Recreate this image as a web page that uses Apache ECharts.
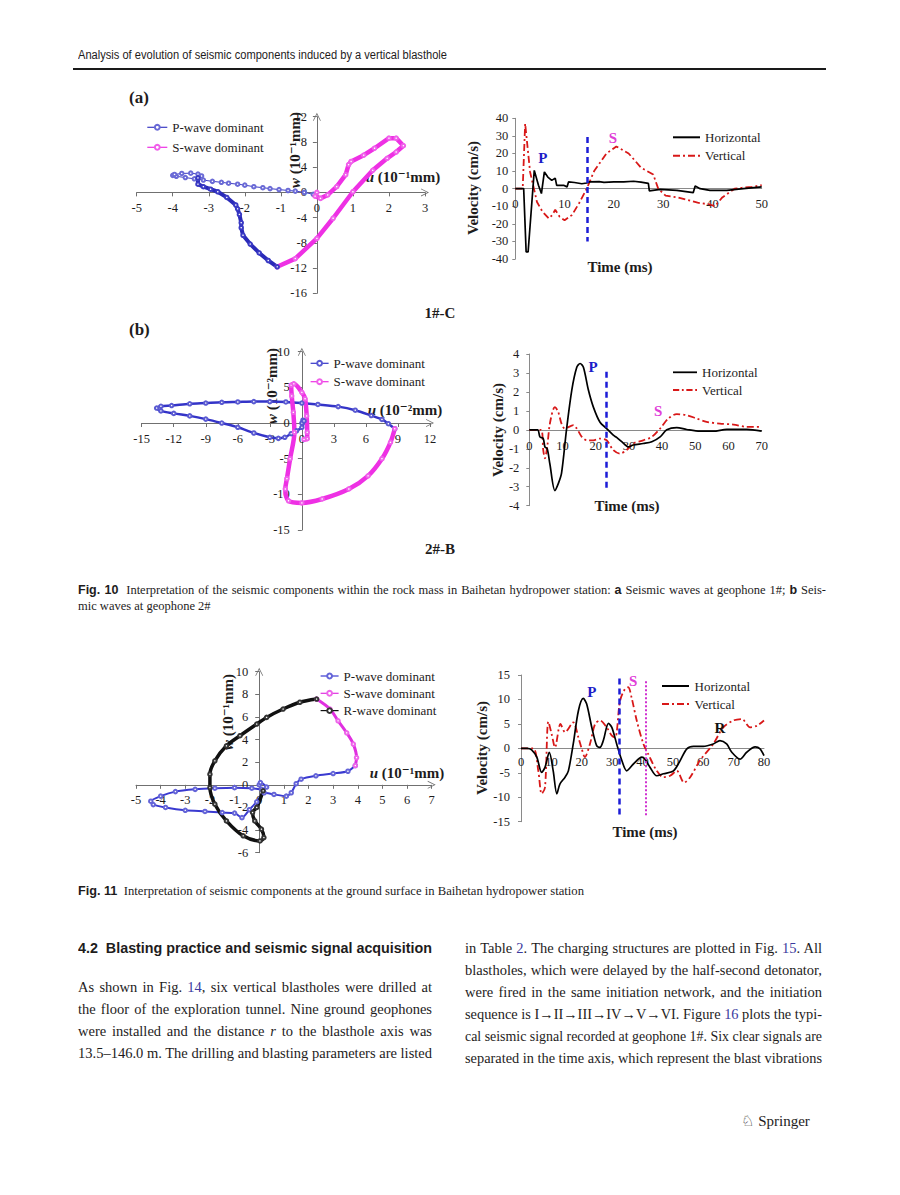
<!DOCTYPE html>
<html><head><meta charset="utf-8">
<script src="https://cdn.jsdelivr.net/npm/echarts/dist/echarts.min.js"></script>
<style>
html,body{margin:0;padding:0;background:#fff;}
#page{position:relative;width:900px;height:1195px;overflow:hidden;background:#fff;}
.chart{position:absolute;left:0;top:0;width:900px;height:1195px;}
.ln{position:absolute;white-space:nowrap;color:#1e1c1c;}
.ln span.inner{display:inline-block;transform-origin:0 50%;}
.lk{color:#3a3a9e;}
.sb{font-family:"Liberation Sans Narrow","Liberation Sans",sans-serif;font-weight:bold;}
</style></head>
<body><div id="page"></div>
<script>
// ---------------- DATA ----------------
// Fig.10(a) hodogram, geophone 1#-C  (u, w in 10^-1 mm)
const aP1_u = [-0.1,-0.35,-0.6,-0.8,-1.05,-1.3,-1.5,-1.75,-2.0,-2.2,-2.45,-2.65,-2.9,-3.15,-3.4,-3.65,-3.9,-4.0,-3.95,-3.75,-3.5,-3.3,-3.2,-3.3];
const aP1_w = [-0.3,0.0,0.2,0.3,0.45,0.6,0.75,0.9,1.15,1.3,1.45,1.6,1.75,1.95,2.15,2.35,2.55,2.7,2.85,3.0,3.05,2.9,2.6,2.3];
const aP2_u = [-3.3,-3.3,-3.15,-2.95,-2.75,-2.5,-2.25,-2.2,-2.15,-2.1,-2.1,-2.05,-1.85,-1.6,-1.35,-1.1];
const aP2_w = [2.3,1.3,0.9,0.5,0.1,-0.8,-2.0,-2.6,-3.5,-4.8,-5.6,-6.8,-8.2,-9.6,-10.8,-11.8];
const aS_u = [-1.1,-0.6,0,0.45,1.0,1.55,1.95,2.2,2.4,2.2,2.0,1.6,1.3,0.95,0.88,0.8,0.55,0.3,0.1,-0.05,0];
const aS_w = [-11.8,-10.5,-7.3,-4.1,0.1,3.5,5.4,6.4,7.4,8.6,8.6,7.0,5.9,4.9,4.4,2.8,0.9,-0.4,-0.95,-0.6,0];
// Fig.10(a) velocity, geophone 1#
const aH_t = [0,1.7,2.2,2.6,3.85,4.7,5.3,5.9,6.6,7.4,8.1,8.4,9.8,10.5,10.8,12,13.5,14.5,15,17,18,20,22,24,25.5,27,27.2,29.4,32.8,36.1,36.5,37.5,39.5,42.9,46.3,50];
const aH_v = [0,0,-36,-36,10.4,1.9,-2.8,9.5,6.6,4.7,6,1.9,1.9,1,3.8,3.5,2.8,3.2,3.8,4.0,3.6,3.8,3.9,4.2,3.7,3.0,-1.3,-0.4,-1,-2.3,1.5,0,-1,-1,0,1];
const aV_t = [0,1.5,2.0,3.0,4.4,5.5,6.8,7.5,8.1,9,10,11.5,13,14.5,16,18.5,20.5,23,25.5,28,29,30.5,33,37,39.5,40.5,42,44.5,46,48,50];
const aV_v = [0,0,37,9.5,-7.6,-13,-17,-15,-12,-16,-18,-15,-8,0,10,20,24,20,12,8,0,-4,-5,-8,-9,-10,-5,0,0.5,1,2];
// Fig.10(b) hodogram, geophone 2#-B (10^-2 mm)
const bP_u = [0,0.1,0.2,0,-0.5,-1.0,-1.6,-2.2,-3.0,-4.5,-6.0,-7.5,-9.0,-10.5,-12.0,-13.2,-13.6,-13.2,-12.2,-10.5,-9.0,-7.5,-6.0,-4.5,-3.0,-1.5,0,1.5,3.4,5.0,6.5,7.5,8.1,8.7];
const bP_w = [0,0.4,0.3,-0.6,-1.1,-1.5,-2.0,-2.15,-2.0,-1.4,-0.6,0.0,0.55,1.0,1.35,1.7,2.1,2.35,2.45,2.7,2.8,2.9,2.95,3.0,3.0,2.95,2.8,2.6,2.3,1.8,1.05,0.5,-0.1,-0.8];
const bS_u = [8.7,8.3,7.5,6.2,4.4,1.9,0,-1.25,-1.55,-1.4,-1.1,-0.7,-0.8,-0.95,-1.0,-0.75,0,0.3,0.45,0.5,0.5,0.2];
const bS_w = [-0.8,-2.7,-5.0,-7.4,-9.25,-10.65,-11.2,-10.9,-9.25,-7.8,-5.0,-1.3,1.5,3.8,5.3,5.5,4.3,3.4,1.0,-1.3,-2.2,-2.3];
// Fig.10(b) velocity, geophone 2#
const bH_t = [0,2.5,3.2,4.2,4.7,5.4,6.2,7.7,8.7,9.7,11.2,12.8,14.3,15.3,16.3,17.8,19.3,21.3,23.3,25.3,26.3,28.3,29.8,31.3,34.3,36.9,39.4,41.4,44.4,47.4,51.4,55.4,59.5,65.5,70];
const bH_v = [0,0,-0.37,-0.46,-0.9,-1,-1.8,-3.2,-2.85,-2.3,0,2.1,3.3,3.5,3.3,2.1,1.2,0.4,0.07,-0.28,-0.4,-0.7,-0.9,-0.8,-0.72,-0.63,-0.37,0,0.12,0.02,-0.07,-0.07,0.02,0.02,-0.07];
const bV_t = [0,3.5,4.2,4.7,5.4,6.2,7.7,8.7,9.7,10.7,13.3,14.3,15.8,17.3,19.3,21.3,23.3,25.3,27.3,29.3,31.3,34.3,36.9,39.4,41.9,44.4,47.4,50.4,53.4,57.4,61.5,65.5,70];
const bV_v = [0,0,-1.07,-1.5,-0.9,0.33,1.2,0.95,0.33,0.07,0.25,0.07,-0.37,-0.55,-0.55,-0.46,-0.55,-1.07,-1.25,-1.07,-0.72,-0.55,-0.37,0.07,0.6,0.83,0.77,0.6,0.42,0.33,0.28,0.16,0.16];
// Fig.11 hodogram, ground surface (10^-1 mm)
const cP_u = [0,0.05,0.3,0.1,-0.3,-1.0,-1.8,-2.6,-3.4,-4.0,-4.4,-4.3,-3.8,-3.0,-2.2,-1.5,-1.0,-0.7,-0.4,-0.1,0.2,0.6,1.1,1.3,1.5,1.7,2.3,3.0,3.6,3.9];
const cP_w = [0,0.2,-0.2,-0.4,-0.3,-0.25,-0.3,-0.4,-0.6,-1.0,-1.45,-1.75,-2.0,-2.25,-2.35,-2.45,-2.5,-2.9,-2.2,-1.5,-0.7,-0.85,-1.0,-0.7,0.1,0.5,0.8,1.0,1.2,1.7];
const cS_u = [3.9,3.95,3.82,3.55,3.2,2.87,2.33];
const cS_w = [1.7,2.4,3.6,4.6,5.66,6.7,7.58];
const cR_u = [2.33,1.65,0.97,0.3,-0.1,-0.78,-1.33,-1.8,-2.0,-2.0,-1.8,-1.33,-0.65,0.03,0.19,0.09,-0.18,-0.27,-0.1,0.16];
const cR_w = [7.58,7.3,6.7,5.96,5.37,4.34,3.45,2.12,0.94,-0.24,-1.71,-3.19,-4.51,-4.96,-4.66,-3.92,-3.19,-2.45,-2.0,-0.53];
// Fig.11 velocity
const cH_t = [0,2,3.5,5.2,6.8,7.9,9.3,10.6,11.8,12.8,14.5,15.6,17.2,18.9,20.5,21.6,23.3,24.9,26,27.1,28.8,29.9,31.5,33.2,34.8,37,39.8,40.8,42.5,44.7,46.9,50.2,52.4,54.6,56.8,60,63.3,65.5,67.7,69.4,72.1,74.3,77.1,78.7,80];
const cH_v = [0,0,-0.3,-1.8,-4.9,-3.9,-0.8,-4.6,-9.3,-7.3,-5.9,-4.6,0.9,7.7,10.2,9.1,4.3,0.55,0.2,1.6,5.1,4.3,0.9,-2.5,-4.6,-3.2,-1.8,-2.2,-3.9,-5.6,-5.2,-4.6,-2.5,-0.1,0.4,0.4,0.9,1.6,0.9,-0.8,-2.2,-0.8,0.3,-0.1,-1.5];
const cV_t = [0,4,5.7,6.8,7.9,9,10.1,11.2,13,14.5,17.2,18.9,20,21,22.7,24.4,26,28.2,29.9,31,32.6,34.2,35.3,36.4,38.1,40.3,41.9,44.7,46.9,49.1,51.3,53.7,55.7,58.9,63.3,66.6,69.9,72.7,75.4,77.6,80];
const cV_v = [0,0,-4.6,-9.3,-8,5.45,2.9,0.2,5,3.3,5.3,2.2,-0.1,-1.8,0.9,5,5.7,4.3,2.6,2.2,9.7,12.1,12.5,10.4,5.7,0.9,-1.2,-4.6,-5.9,-5.6,-4.6,-7,-5.9,-2.5,0.9,4.3,5.7,6,4.3,4.6,5.7];
// wave-arrival markers: [time (ms), top value, bottom value]
const aMark = [14.5, 29.4, -30];
const bMark = [23.3, 3.06, -3.1];
const cMarkP = [32.4, 14.3, -14];
const cMarkS = [41.05, 13.7, -14];

// ---------------- HELPERS ----------------
const page = document.getElementById('page');
const SERIF = '"Liberation Serif","DejaVu Serif",serif';
const INK = '#1e1c1c';
const BLUE = '#1c1cd6', MAG = '#e040d8';
const pairs = (u, w) => u.map((x, i) => [x, w[i]]);
function chart(opt) {
  const d = document.createElement('div'); d.className = 'chart'; page.appendChild(d);
  const c = echarts.init(d, null, {renderer: 'svg', width: 900, height: 1195});
  c.setOption(opt); return c;
}
const arrowSym = 'path://M0,10 L5,0 L10,10 L9,10 L5,2.2 L1,10 Z';
// distance (px) from the grid's min edge to the value 0 along an axis
const zeroDist = (min, max, len) => (0 - min) / (max - min) * len;
function axisTitle(x, y, italic, rest, rot) {
  return {type: 'text', x: x, y: y, rotation: rot ? Math.PI / 2 : 0, silent: true,
    style: {text: (italic ? '{i|' + italic + '}' : '') + rest, fontFamily: SERIF, fontSize: 15, fontWeight: 'bold', fill: INK,
      align: 'center', verticalAlign: 'middle',
      rich: {i: {fontStyle: 'italic', fontWeight: 'bold', fontFamily: SERIF, fontSize: 15, fill: INK}}}};
}
function hodoAxis(min, max, interval, margin, offset) {
  return {type: 'value', min: min, max: max, interval: interval, offset: offset,
    axisLine: {onZero: false, lineStyle: {color: '#707070', width: 1}, symbol: ['none', arrowSym], symbolSize: [8, 8]},
    axisTick: {show: true, length: 4, lineStyle: {color: '#707070'}},
    axisLabel: {fontFamily: SERIF, fontSize: 12.5, color: INK, margin: margin},
    splitLine: {show: false}};
}
function hodoGrid(g, xr, yr, xm, ym) {
  return {
    grid: {left: g[0], top: g[1], width: g[2], height: g[3]},
    xAxis: hodoAxis(xr[0], xr[1], xr[2], xm, -zeroDist(yr[0], yr[1], g[3])),
    yAxis: hodoAxis(yr[0], yr[1], yr[2], ym, -zeroDist(xr[0], xr[1], g[2]))
  };
}
function legend(left, top, gap, iw, names, hodo) {
  const l = {orient: 'vertical', left: left, top: top, itemGap: gap, itemWidth: iw, itemHeight: hodo ? 6 : 2,
    selectedMode: false, data: names, padding: 0,
    textStyle: {fontFamily: SERIF, fontSize: 13, color: INK, lineHeight: 14}};
  if (hodo) l.lineStyle = {width: 1.2};
  return l;
}
const ICON_SOLID = 'path://M0,0H27V2H0Z';
const ICON_DASHDOT = 'path://M0,0H7V2H0Z M10,0H12V2H10Z M15,0H22V2H15Z M25,0H27V2H25Z';
function velLegend(left, top, gap, iw) {
  return legend(left, top, gap, iw, [{name: 'Horizontal', icon: ICON_SOLID}, {name: 'Vertical', icon: ICON_DASHDOT}], false);
}
function hodoSeries(name, data, color, width, mcolor, smooth) {
  return {type: 'line', name: name, data: data, symbol: 'emptyCircle', symbolSize: 3.5, showAllSymbol: true,
    smooth: smooth || false,
    lineStyle: {width: width, color: color}, itemStyle: {color: mcolor || color, borderWidth: 1}, silent: true, animation: false};
}
function velAxes(g, xmax, yr, xm, ym) {
  return {
    grid: {left: g[0], top: g[1], width: g[2], height: g[3]},
    xAxis: {type: 'value', min: 0, max: xmax, interval: 10, offset: -zeroDist(yr[0], yr[1], g[3]),
      axisLine: {onZero: false, lineStyle: {color: '#8a8a8a', width: 1}}, axisTick: {show: false},
      axisLabel: {fontFamily: SERIF, fontSize: 12.5, color: INK, margin: xm}, splitLine: {show: false}},
    yAxis: {type: 'value', min: yr[0], max: yr[1], interval: yr[2],
      axisLine: {show: true, onZero: false, lineStyle: {color: '#8a8a8a', width: 1}},
      axisTick: {show: true, length: 3, lineStyle: {color: '#8a8a8a'}},
      axisLabel: {fontFamily: SERIF, fontSize: 12.5, color: INK, margin: ym}, splitLine: {show: false}}
  };
}
function annot(list) {
  return {silent: true, animation: false, symbol: 'circle', symbolSize: 1, itemStyle: {color: 'rgba(0,0,0,0)'},
    data: list.map(a => ({coord: [a[0], a[1]], label: {show: true, position: 'inside', formatter: a[2], color: a[3],
      fontFamily: SERIF, fontWeight: 'bold', fontSize: 15}}))};
}
function vline(m, color, type, width) {
  return [[{coord: [m[0], m[1]], lineStyle: {color: color, type: type, width: width}}, {coord: [m[0], m[2]]}]];
}
function velSeries(H, V, marks, labels, smooth) {
  return [
    {type: 'line', name: 'Vertical', data: V, symbol: 'none', showSymbol: false, silent: true, animation: false,
      smooth: smooth || false,
      lineStyle: {color: '#d81818', width: 1.8, type: [7, 3, 2, 3]}, itemStyle: {color: '#d81818'}},
    {type: 'line', name: 'Horizontal', data: H, symbol: 'none', showSymbol: false, silent: true, animation: false,
      smooth: smooth || false,
      lineStyle: {color: '#000', width: 1.7}, itemStyle: {color: '#000'},
      markLine: {silent: true, animation: false, symbol: 'none', label: {show: false}, data: marks},
      markPoint: annot(labels)}
  ];
}
const merge = (a, b) => Object.assign({animation: false}, a, b);

// ---------------- Fig.10 (a) left: hodogram ----------------
chart(merge(hodoGrid([136.7, 116.7, 288.3, 176.6], [-5, 3, 1], [-16, 12, 4], 9, 10), {
  legend: legend(146.7, 120.3, 6, 20, ['P-wave dominant', 'S-wave dominant'], true),
  series: [
    hodoSeries('P-wave dominant', pairs(aP1_u, aP1_w), '#3c3cc4', 1, '#6a6ad6'),
    hodoSeries('S-wave dominant', pairs(aS_u, aS_w), '#ee30e4', 4.5, '#f060ea'),
    hodoSeries('P-wave dominant', pairs(aP2_u, aP2_w), '#2a2ab8', 4, '#3a3ac4')
  ],
  graphic: [axisTitle(403, 177, 'u', ' (10⁻¹mm)'), axisTitle(295, 150, 'w', ' (10⁻¹mm)', true)]
}));
// ---------------- Fig.10 (a) right: velocity ----------------
chart(merge(velAxes([515.3, 118.3, 246.4, 140.7], 50, [-40, 40, 10], 9, 7), {
  legend: velLegend(673, 130.3, 4.4, 27),
  series: velSeries(pairs(aH_t, aH_v), pairs(aV_t, aV_v), vline(aMark, BLUE, [6, 4], 2.5),
    [[5.6, 17.6, 'P', '#1c1cc8'], [19.8, 28.8, 'S', MAG]]),
  graphic: [axisTitle(473, 188, '', 'Velocity (cm/s)', true), axisTitle(620, 267, '', 'Time (ms)')]
}));
// ---------------- Fig.10 (b) left: hodogram ----------------
chart(merge(hodoGrid([141.7, 351.7, 288.3, 178.3], [-15, 12, 3], [-15, 10, 5], 9, 12), {
  legend: legend(310, 356.3, 4.4, 18, ['P-wave dominant', 'S-wave dominant'], true),
  series: [
    hodoSeries('P-wave dominant', pairs(bP_u, bP_w), '#3434c8', 2.5, '#5a5ad2', 0.3),
    hodoSeries('S-wave dominant', pairs(bS_u, bS_w), '#ee30e4', 4.5, '#f060ea', 0.3)
  ],
  graphic: [axisTitle(405, 410, 'u', ' (10⁻²mm)'), axisTitle(272, 386, 'w', ' (10⁻²mm)', true)]
}));
// ---------------- Fig.10 (b) right: velocity ----------------
chart(merge(velAxes([529.3, 354, 232.4, 151.7], 70, [-4, 4, 1], 10, 10), {
  legend: velLegend(673, 365.3, 3.7, 24),
  series: velSeries(pairs(bH_t, bH_v), pairs(bV_t, bV_v), vline(bMark, BLUE, [6, 4], 2.5),
    [[19.2, 3.31, 'P', '#1c1cc8'], [38.8, 1.0, 'S', MAG]], 0.3),
  graphic: [axisTitle(498, 430, '', 'Velocity (cm/s)', true), axisTitle(627, 506, '', 'Time (ms)')]
}));
// ---------------- Fig.11 left: hodogram ----------------
chart(merge(hodoGrid([136, 671.7, 295.7, 181], [-5, 7, 1], [-6, 10, 2], 9, 11), {
  legend: legend(320, 669, 3.3, 18, ['P-wave dominant', 'S-wave dominant', 'R-wave dominant'], true),
  series: [
    hodoSeries('P-wave dominant', pairs(cP_u, cP_w), '#3a3ad0', 2, '#6464d8', 0.25),
    hodoSeries('S-wave dominant', pairs(cS_u, cS_w), '#e030e0', 3, '#ee66ea', 0.3),
    hodoSeries('R-wave dominant', pairs(cR_u, cR_w), '#111', 3.5, '#333', 0.3)
  ],
  graphic: [axisTitle(407, 773, 'u', ' (10⁻¹mm)'), axisTitle(228, 712, 'w', ' (10⁻¹mm)', true)]
}));
// ---------------- Fig.11 right: velocity ----------------
const cMarks = vline(cMarkP, BLUE, [6, 4], 2.5).concat(vline(cMarkS, '#d030d0', [2, 2], 2));
chart(merge(velAxes([521, 675, 243, 146.7], 80, [-15, 15, 5], 7, 11), {
  legend: velLegend(662, 679, 4, 28),
  series: velSeries(pairs(cH_t, cH_v), pairs(cV_t, cV_v), cMarks,
    [[23.3, 11.5, 'P', '#1c1cc8'], [36.9, 13.8, 'S', MAG], [65.5, 4.1, 'R', '#111']], 0.3),
  graphic: [axisTitle(482, 748, '', 'Velocity (cm/s)', true), axisTitle(645, 832, '', 'Time (ms)')]
}));

// ---------------- PAGE TEXT ----------------
function addLine(x, yc, w, html, font, mode) {
  const d = document.createElement('div'); d.className = 'ln'; d.style.font = font;
  const fs = parseFloat(font.match(/([\d.]+)px/)[1]); const lh = Math.round(fs * 1.3);
  d.style.top = (yc - lh / 2) + 'px'; d.style.lineHeight = lh + 'px'; d.style.height = lh + 'px'; d.style.left = x + 'px';
  const s = document.createElement('span'); s.className = 'inner'; s.innerHTML = html; d.appendChild(s); page.appendChild(d);
  const nat = s.getBoundingClientRect().width;
  if (mode === 'center') { d.style.left = (x - nat / 2) + 'px'; }
  else if (mode === 'justify' && nat <= w) {
    d.style.width = w + 'px'; d.style.whiteSpace = 'normal'; d.style.textAlign = 'justify'; d.style.textAlignLast = 'justify'; s.style.display = 'inline';
  } else if (mode !== 'none') { s.style.transform = 'scaleX(' + (w / nat) + ')'; }
}
const rule = document.createElement('div');
rule.style.cssText = 'position:absolute;left:73px;top:67.5px;width:753px;height:2.5px;background:#1a1a1a;';
page.appendChild(rule);
const NARROW = '"Liberation Sans Narrow","Liberation Sans",sans-serif';
const SER = '"Liberation Serif","DejaVu Serif",serif';
addLine(78, 55, 369, 'Analysis of evolution of seismic components induced by a vertical blasthole', '12.5px ' + NARROW, 'scale');
addLine(129, 98, 0, '(a)', 'bold 17px ' + SER, 'none');
addLine(129, 330, 0, '(b)', 'bold 17px ' + SER, 'none');
addLine(440, 313, 0, '1#-C', 'bold 15px ' + SER, 'center');
addLine(440, 549, 0, '2#-B', 'bold 15px ' + SER, 'center');
addLine(78, 590, 748, '<span class="sb">Fig. 10</span>&nbsp; Interpretation of the seismic components within the rock mass in Baihetan hydropower station: <span class="sb">a</span> Seismic waves at geophone 1#; <span class="sb">b</span> Seis-', '12.5px ' + SER, 'justify');
addLine(78, 606, 0, 'mic waves at geophone 2#', '12.5px ' + SER, 'none');
addLine(78, 891, 506, '<span class="sb">Fig. 11</span>&nbsp; Interpretation of seismic components at the ground surface in Baihetan hydropower station', '12.5px ' + SER, 'scale');
addLine(78, 948, 354, '4.2&nbsp; Blasting practice and seismic signal acquisition', 'bold 15.5px ' + NARROW, 'scale');
const BODY = '14.5px ' + SER;
const leftCol = [
  'As shown in Fig. <span class="lk">14</span>, six vertical blastholes were drilled at',
  'the floor of the exploration tunnel. Nine ground geophones',
  'were installed and the distance <i>r</i> to the blasthole axis was',
  '13.5–146.0 m. The drilling and blasting parameters are listed'];
const rightCol = [
  'in Table <span class="lk">2</span>. The charging structures are plotted in Fig. <span class="lk">15</span>. All',
  'blastholes, which were delayed by the half-second detonator,',
  'were fired in the same initiation network, and the initiation',
  'sequence is I→II→III→IV→V→VI. Figure <span class="lk">16</span> plots the typi-',
  'cal seismic signal recorded at geophone 1#. Six clear signals are',
  'separated in the time axis, which represent the blast vibrations'];
leftCol.forEach((t, i) => addLine(78, 987 + i * 22, 354, t, BODY, 'justify'));
rightCol.forEach((t, i) => addLine(465, 948 + i * 22, 357, t, BODY, 'justify'));
addLine(741, 1121, 0, '<span style="font-family:\'DejaVu Sans\';font-size:15px">♘</span> Springer', '15px ' + SER, 'none');
</script></body></html>
